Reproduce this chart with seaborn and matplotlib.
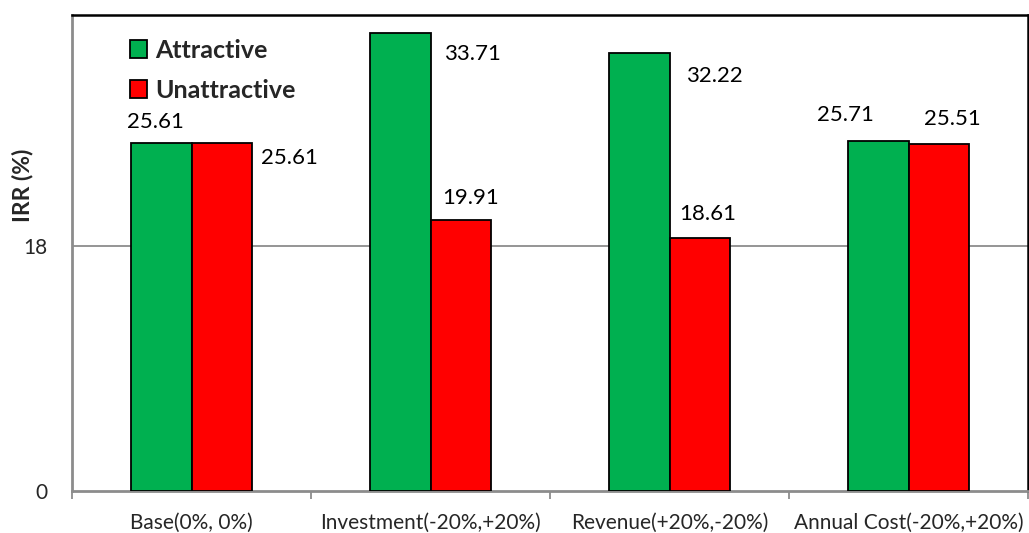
import matplotlib
matplotlib.use("Agg")
import matplotlib.pyplot as plt
from matplotlib.patches import Patch
import seaborn as sns
import pandas as pd

# Scenario data: IRR (%) under attractive / unattractive assumptions
categories = ["Base(0%, 0%)", "Investment(-20%,+20%)", "Revenue(+20%,-20%)", "Annual Cost(-20%,+20%)"]
attractive = [25.61, 33.71, 32.22, 25.71]
unattractive = [25.61, 19.91, 18.61, 25.51]
series_names = ["Attractive", "Unattractive"]
y_ticks = [0, 18]

# Label offsets (pixels from the top-centre of each bar), per series
label_offsets = {
    "Attractive": [(-6, 21), (72, -21), (75, -23), (-33, 26)],
    "Unattractive": [(67, -15), (10, 22), (8, 24), (13, 25)],
}

df = pd.DataFrame({
    "Scenario": categories * 2,
    "Case": [series_names[0]] * len(categories) + [series_names[1]] * len(categories),
    "IRR": attractive + unattractive,
})

sns.set_theme(style="white")
plt.rcParams["font.family"] = ["Lato", "DejaVu Sans"]

W, H = 1029, 533
fig = plt.figure(figsize=(W / 100, H / 100), dpi=100)
ax = fig.add_axes([72 / W, (H - 491) / H, (1028 - 72) / W, (491 - 15) / H])

palette = {"Attractive": "#00B050", "Unattractive": "#FF0000"}
sns.barplot(data=df, x="Scenario", y="IRR", hue="Case", order=categories,
            hue_order=series_names, palette=palette, width=0.51, gap=0,
            edgecolor="black", linewidth=1.3, saturation=1, ax=ax, legend=False,
            zorder=3)

ax.set_ylim(0, 35)
ax.set_xlim(-0.5, len(categories) - 0.5)
ax.set_yticks(y_ticks)
ax.set_yticklabels([str(t) for t in y_ticks], fontsize=15)
ax.grid(False)
ax.axhline(18, color="#8c8c8c", lw=1.3, zorder=1)

# x ticks: labels centred on groups, marks at group boundaries
ax.set_xticks(range(len(categories)))
ax.set_xticklabels(categories, fontsize=15)
ax.set_xticks([i - 0.5 for i in range(len(categories) + 1)], minor=True)
ax.tick_params(axis="x", which="major", length=0, pad=16)
ax.tick_params(axis="x", which="minor", length=6, width=1.3, color="#8c8c8c", direction="out")
ax.tick_params(axis="y", which="major", length=7, width=1.3, color="#8c8c8c", direction="out", pad=11)
ax.tick_params(axis="x", bottom=True, which="minor")

ax.set_xlabel("")
ax.set_ylabel("IRR (%)", fontsize=16.5, fontweight="bold")
ax.yaxis.set_label_coords(-0.040, 0.643)

for side in ["top", "right"]:
    ax.spines[side].set_color("black")
    ax.spines[side].set_linewidth(1.8)
for side in ["left", "bottom"]:
    ax.spines[side].set_color("#8c8c8c")
    ax.spines[side].set_linewidth(2.0)

# value labels
for cont, name in zip(ax.containers, series_names):
    for bar, (dx, dy) in zip(cont, label_offsets[name]):
        xc = bar.get_x() + bar.get_width() / 2
        v = bar.get_height()
        ax.annotate(f"{v:.2f}", xy=(xc, v), xytext=(dx * 0.72, dy * 0.72),
                    textcoords="offset points", ha="center", va="center",
                    fontsize=16, color="black", zorder=5)

handles = [Patch(facecolor=palette[n], edgecolor="black", linewidth=1.3, label=n) for n in series_names]
leg = ax.legend(handles=handles, loc="upper left", bbox_to_anchor=(0.037, 0.997),
                frameon=False, handlelength=0.7, handleheight=0.7, handletextpad=0.3,
                labelspacing=0.68, prop={"weight": "bold", "size": 18})

fig.savefig("out.png", dpi=100)
